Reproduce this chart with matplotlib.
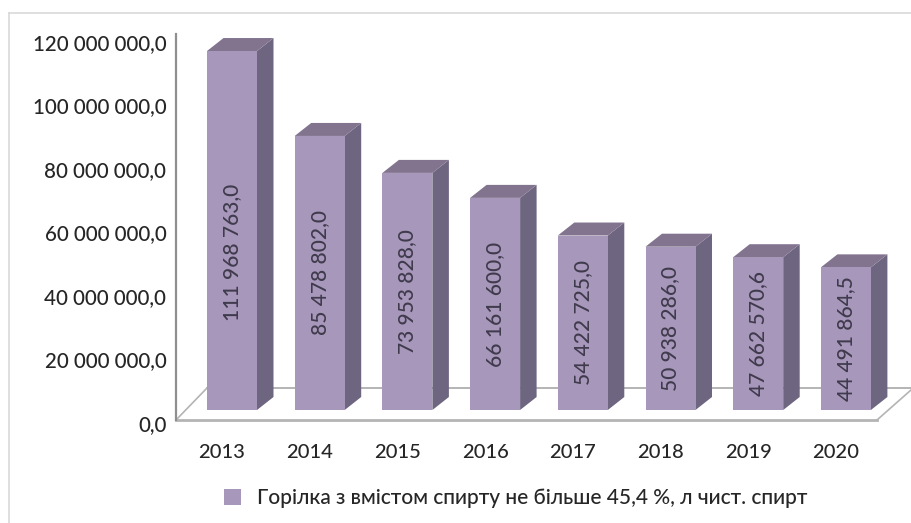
import matplotlib
matplotlib.use('Agg')
import matplotlib.pyplot as plt

years = ['2013', '2014', '2015', '2016', '2017', '2018', '2019', '2020']
values = [111968763.0, 85478802.0, 73953828.0, 66161600.0, 54422725.0, 50938286.0, 47662570.6, 44491864.5]
value_labels = ['111 968 763,0', '85 478 802,0', '73 953 828,0', '66 161 600,0',
                '54 422 725,0', '50 938 286,0', '47 662 570,6', '44 491 864,5']
y_ticks = [0, 20000000, 40000000, 60000000, 80000000, 100000000, 120000000]
y_tick_labels = ['0,0', '20 000 000,0', '40 000 000,0', '60 000 000,0',
                 '80 000 000,0', '100 000 000,0', '120 000 000,0']
legend_label = 'Горілка з вмістом спирту не більше 45,4 %, л чист. спирт'

W, H = 911, 523
FRONT = '#a797bb'
SIDE = '#6e6681'
TOP = '#82748f'
TEXT = '#262626'
GREY = '#b4b4b4'

plt.rcParams['font.family'] = ['Lato', 'DejaVu Sans']
plt.rcParams['font.weight'] = 'medium'


def box(x0, y_top, x1, y_bot):
    # pixel box (top-left origin) -> figure fraction rect
    return [x0 / W, 1 - y_bot / H, (x1 - x0) / W, (y_bot - y_top) / H]


fig = plt.figure(figsize=(W / 100, H / 100), dpi=100)

# outer frame of the chart
fig.add_artist(plt.Line2D([9 / W, 1], [1 - 13 / H, 1 - 13 / H], color='#d9d9d9', lw=1.2))
fig.add_artist(plt.Line2D([9 / W, 9 / W], [0, 1 - 13 / H], color='#d9d9d9', lw=1.2))

# main axes: bars live here, zero is on the floor of the box
px_x = 87.7
px_y = 3.206e-6
ax = fig.add_axes(box(176, 34, 911, 420))
ax.set_xlim((176 - 232) / px_x, (911 - 232) / px_x)
ax.set_ylim(-10 / px_y, 376 / px_y)
ax.axis('off')

bar_w = 50 / px_x
dx = 16.5 / px_x
dy = 13 / px_y
xs = list(range(len(years)))

# floor of the 3d box
floor_back = 22 / px_y
x_l, x_r = ax.get_xlim()
y_b = ax.get_ylim()[0]
ax.plot([x_l + 31 / px_x, x_r], [floor_back, floor_back], color=GREY, lw=1.4, zorder=1)
ax.plot([x_l, x_l + 31 / px_x], [y_b, floor_back], color=GREY, lw=1.2, zorder=1, clip_on=False)
ax.plot([x_l, x_l + 701 / px_x], [y_b, y_b], color=GREY, lw=2, zorder=1, clip_on=False)
ax.plot([x_l + 701 / px_x, x_r], [y_b, y_b + 30 / px_y], color=GREY, lw=1.2, zorder=1, clip_on=False)
ax.plot([x_l, x_l], [y_b, ax.get_ylim()[1]], color='#8f8f8f', lw=1.6, zorder=1, clip_on=False)

bars = ax.bar(xs, values, width=bar_w, color=FRONT, zorder=3, label=legend_label)
for x, v, lab in zip(xs, values, value_labels):
    right = x + bar_w / 2
    left = x - bar_w / 2
    ax.fill([right, right + dx, right + dx, right],
            [0, dy, v + dy, v], color=SIDE, lw=0, zorder=2)
    ax.fill([left, left + dx, right + dx, right],
            [v, v + dy, v + dy, v], color=TOP, lw=0, zorder=2)
    # first label sits lower than the middle of its bar
    y_mid = v / 2 if x > 0 else v / 2 - 22 / px_y
    ax.text(x, y_mid, lab, rotation=90, ha='center', va='center',
            fontsize=15, color='#3f3a4c', zorder=4)

# tick labels run on the front plane, so a bit off from the bars
ax_front = fig.add_axes(box(176, 42, 911, 423), facecolor='none')
ax_front.set_ylim(0, 120000000)
ax_front.set_xlim(ax.get_xlim())
ax_front.set_yticks(y_ticks, y_tick_labels)
ax_front.set_xticks([x - 10 / px_x for x in xs], years)
ax_front.tick_params(axis='y', length=0, pad=7, labelsize=14.8, labelcolor=TEXT)
ax_front.tick_params(axis='x', length=0, pad=15, labelsize=14.5, labelcolor=TEXT)
for s in ax_front.spines.values():
    s.set_visible(False)

fig.legend(handles=[bars], labels=[legend_label], loc='center', bbox_to_anchor=(516 / W, 1 - 498 / H),
           frameon=False, fontsize=15, labelcolor=TEXT, handlelength=0.8, handleheight=0.8,
           handletextpad=0.8)

fig.savefig('out.png', dpi=100)
plt.close(fig)
